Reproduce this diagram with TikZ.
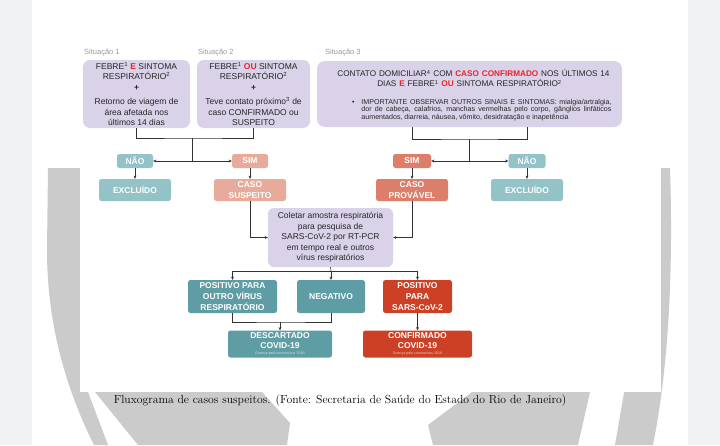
\documentclass[tikz,border=0pt]{standalone}
\usepackage{fontspec}
\setsansfont{Liberation Sans}
\usetikzlibrary{arrows.meta, positioning}

\definecolor{lav}{HTML}{D9D2E9}
\definecolor{tealL}{HTML}{93C3C7}
\definecolor{tealD}{HTML}{5F9DA5}
\definecolor{salL}{HTML}{E8AA9B}
\definecolor{salD}{HTML}{DD7E6B}
\definecolor{redB}{HTML}{CC4125}
\definecolor{redT}{HTML}{E8262B}
\definecolor{sitgray}{HTML}{9A9A9A}
\definecolor{wmark}{HTML}{CBCBCB}
\definecolor{pagebg}{HTML}{F1F2F4}

\begin{document}
\begin{tikzpicture}[x=1pt, y=-1pt,
  every node/.style = {font=\sffamily\fontsize{8.5}{10.4}\selectfont, inner sep=0pt},
  sit/.style  = {fill=lav, rounded corners=7pt, align=center, text=black!85},
  tag/.style  = {rounded corners=2.5pt, text=white, align=center,
                 font=\sffamily\bfseries\fontsize{8.5}{10.8}\selectfont},
  lbl/.style  = {text=sitgray, anchor=west, font=\sffamily\fontsize{7.5}{9}\selectfont},
  wire/.style = {line width=0.6pt, black!80},
  arr/.style  = {wire, -{Stealth[length=3.2pt, width=3pt]}},
]
\useasboundingbox (0,0) rectangle (720,445);

% ── PAGE AND WATERMARK ─────────────────────────────────────────────────────
\fill[white]  (32,0)  rectangle (688,445);
\fill[pagebg] (0,0)   rectangle (32,445);
\fill[pagebg] (688,0) rectangle (720,445);
\fill[wmark] (48,168) -- (88,168) -- (88,392) -- (108,445) -- (94,445)
  .. controls (64,385) and (47,320) .. (47,250) -- cycle;
\fill[wmark] (95,392) -- (262,392) -- (290,423) -- (287,445) -- (138,445) -- cycle;
\fill[wmark] (472,392) -- (590,392) -- (578,445) -- (433,445) -- (428,425) -- cycle;
\fill[wmark] (640,168) -- (670,168) .. controls (673,260) and (670,360) .. (653,445)
  -- (615,445) -- (640,300) -- cycle;
\fill[white] (80,150) rectangle (661,392);

% ── SITUATIONS ─────────────────────────────────────────────────────────────
\node[lbl] (L1) at (84,53)  {Situação 1};
\node[lbl] (L2) at (198,53) {Situação 2};
\node[lbl] (L3) at (325,53) {Situação 3};

\node[sit, minimum width=107, minimum height=68] (S1) at (136.5,94)
  {FEBRE\textsuperscript{1} \textcolor{redT}{\textbf{E}} SINTOMA\\
   RESPIRATÓRIO\textsuperscript{2}\\\textbf{+}\\[4pt]
   Retorno de viagem de\\área afetada nos\\últimos 14 dias};
\node[sit, minimum width=113, minimum height=68] (S2) at (253.5,94)
  {FEBRE\textsuperscript{1} \textcolor{redT}{\textbf{OU}} SINTOMA\\
   RESPIRATÓRIO\textsuperscript{2}\\\textbf{+}\\[4pt]
   Teve contato próximo\textsuperscript{3} de\\caso CONFIRMADO ou\\SUSPEITO};
\node[sit, rounded corners=8pt, minimum width=305, minimum height=66,
      text width=295] (S3) at (469.5,94)
  {{\fontsize{8.2}{10}\selectfont
    \hspace*{8pt}CONTATO DOMICILIAR\textsuperscript{4} COM
    \textcolor{redT}{\textbf{CASO CONFIRMADO}} NOS ÚLTIMOS 14\\
    DIAS \textcolor{redT}{\textbf{E}} FEBRE\textsuperscript{1}
    \textcolor{redT}{\textbf{OU}} SINTOMA RESPIRATÓRIO\textsuperscript{2}\par}
   \vspace{9.5pt}
   {\fontsize{7.1}{7.8}\selectfont
    \hbox to 295pt{\hspace{30pt}\textbullet\hspace{7pt}\parbox[t]{250pt}{%
      \baselineskip=7.8pt \spaceskip=1.9pt plus 12pt minus 0.6pt\relax
      IMPORTANTE OBSERVAR OUTROS SINAIS E SINTOMAS: mialgia/artralgia,\linebreak
      dor de cabeça, calafrios, manchas vermelhas pelo corpo, gânglios linfáticos\linebreak
      aumentados, diarreia, náusea, vômito, desidratação e inapetência}\hss}\par}
   \vspace{-3pt}};

% ── SIM / NAO ──────────────────────────────────────────────────────────────
\node[tag, fill=tealL, minimum width=36, minimum height=14] (NAO1) at (135,161) {NÃO};
\node[tag, fill=salL,  minimum width=36, minimum height=14] (SIM1) at (250,161) {SIM};
\node[tag, fill=salD,  minimum width=38, minimum height=14] (SIM2) at (412,161) {SIM};
\node[tag, fill=tealL, minimum width=37, minimum height=14] (NAO2) at (527,161) {NÃO};

\node[tag, fill=tealL, minimum width=72, minimum height=22] (EXC1) at (135,190) {EXCLUÍDO};
\node[tag, fill=salL,  minimum width=72, minimum height=22] (SUS)  at (250,190) {CASO\\SUSPEITO};
\node[tag, fill=salD,  minimum width=72, minimum height=22] (PRV)  at (412,190) {CASO\\PROVÁVEL};
\node[tag, fill=tealL, minimum width=72, minimum height=22] (EXC2) at (527,190) {EXCLUÍDO};

% ── SAMPLE AND RESULTS ─────────────────────────────────────────────────────
\node[sit, rounded corners=6pt, minimum width=125, minimum height=59] (COL) at (330.5,237.5)
  {Coletar amostra respiratória\\para pesquisa de\\SARS-CoV-2 por RT-PCR\\
   em tempo real e outros\\vírus respiratórios};

\node[tag, fill=tealD, minimum width=89, minimum height=33] (POT) at (232.5,296.5)
  {POSITIVO PARA\\OUTRO VÍRUS\\RESPIRATÓRIO};
\node[tag, fill=tealD, minimum width=68, minimum height=33] (NEG) at (331,296.5) {NEGATIVO};
\node[tag, fill=redB,  minimum width=69, minimum height=33] (POS) at (417.5,296.5)
  {POSITIVO\\PARA\\SARS-CoV-2};

\node[tag, fill=tealD, minimum width=104, minimum height=27,
      font=\sffamily\bfseries\fontsize{8.5}{10}\selectfont] (DES) at (280,344)
  {DESCARTADO\\COVID-19\\[-4.5pt]
   {\mdseries\fontsize{3.6}{4}\selectfont\color{white!70!tealD}Doença pelo coronavírus 2019}};
\node[tag, fill=redB,  minimum width=109, minimum height=27,
      font=\sffamily\bfseries\fontsize{8.5}{10}\selectfont] (CNF) at (417.5,344)
  {CONFIRMADO\\COVID-19\\[-4.5pt]
   {\mdseries\fontsize{3.6}{4}\selectfont\color{white!70!redB}Doença pelo coronavírus 2019}};

% ── CONNECTORS ─────────────────────────────────────────────────────────────
\coordinate (J1) at (192,138);
\coordinate (K1) at (192,161);
\draw[wire] (S1.south) |- (J1) -| (S2.south);
\draw[wire] (J1) -- (K1);
\draw[arr]  (K1) -- (NAO1.east);
\draw[arr]  (K1) -- (SIM1.west);
\draw[arr]  (NAO1.south) -- (EXC1.north);
\draw[arr]  (SIM1.south) -- (SUS.north);

\coordinate (J2) at (469,139);
\coordinate (K2) at (469,161);
\draw[wire] (S3.south -| SIM2) |- (J2) -| (S3.south -| NAO2);
\draw[wire] (J2) -- (K2);
\draw[arr]  (K2) -- (SIM2.east);
\draw[arr]  (K2) -- (NAO2.west);
\draw[arr]  (SIM2.south) -- (PRV.north);
\draw[arr]  (NAO2.south) -- (EXC2.north);

\draw[arr]  (SUS.south) |- (COL.west);
\draw[arr]  (PRV.south) |- (COL.east);

\coordinate (J3) at (331,271);
\draw[wire] (COL.south) -- (J3);
\draw[arr]  (J3) -| (POT.north);
\draw[arr]  (J3) -- (NEG.north);
\draw[arr]  (J3) -| (POS.north);

\coordinate (J4) at (280,322);
\draw[wire] (POT.south) |- (J4) -| (NEG.south);
\draw[arr]  (J4) -- (DES.north);
\draw[arr]  (POS.south) -- (CNF.north);

% ── CAPTION ────────────────────────────────────────────────────────────────
\node[font=\rmfamily\fontsize{11.7}{13}\selectfont] (CAP) at (340,401)
  {Fluxograma de casos suspeitos. (Fonte: Secretaria de Saúde do Estado do Rio de Janeiro)};

\end{tikzpicture}
\end{document}
